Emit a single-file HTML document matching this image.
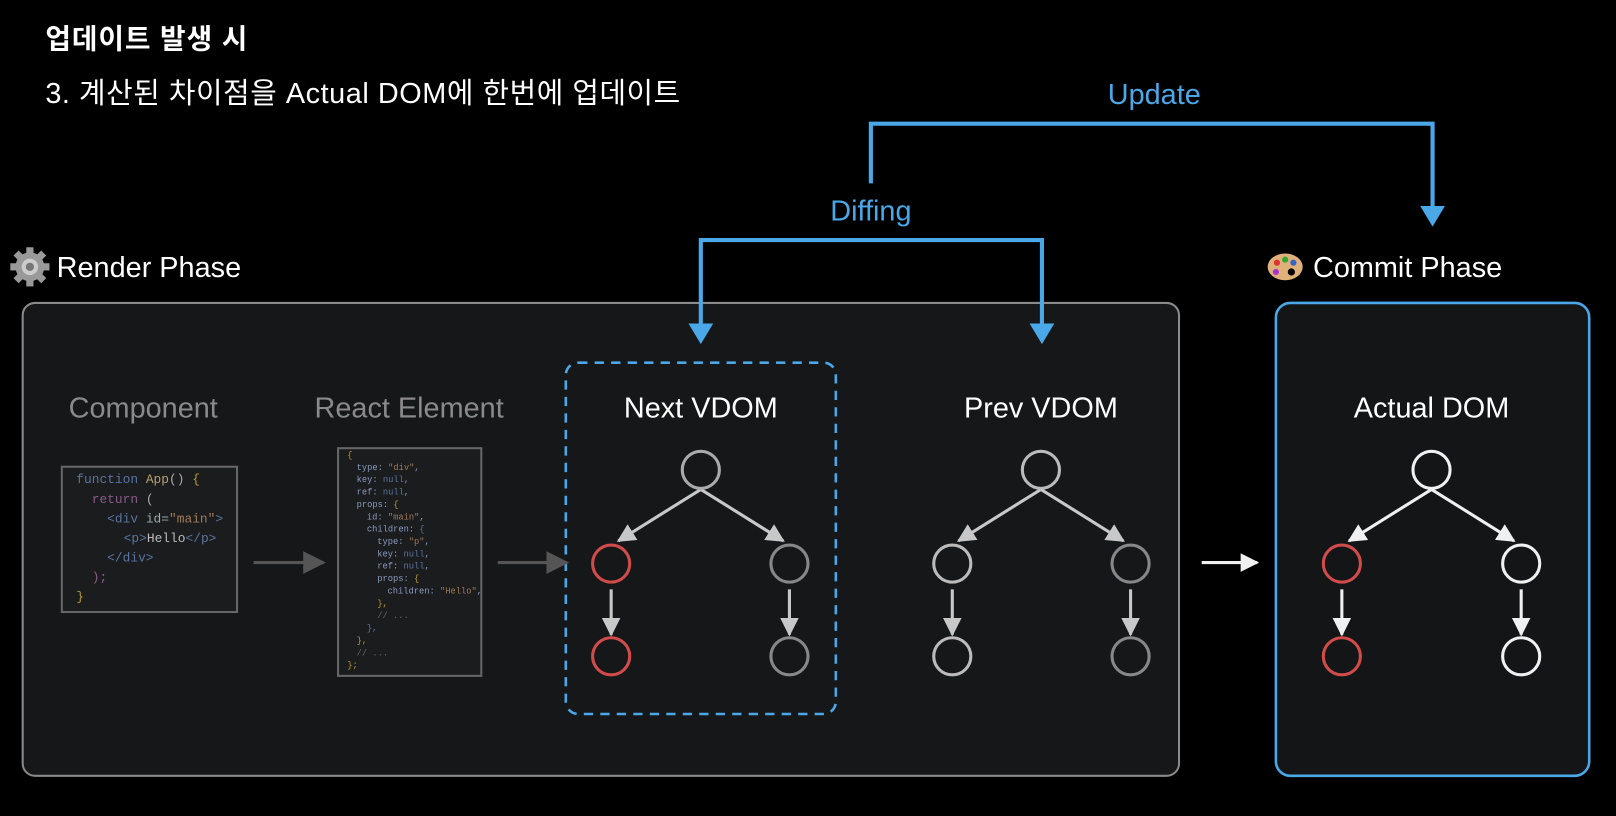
<!DOCTYPE html>
<html><head><meta charset="utf-8"><style>
html,body{margin:0;padding:0;background:#000;width:1616px;height:816px;overflow:hidden}
svg{display:block}
text{font-family:"Liberation Sans","Noto Sans CJK KR",sans-serif}
.m text{font-family:"Liberation Mono",monospace}
</style></head><body>
<svg width="1616" height="816" viewBox="0 0 1568 792" preserveAspectRatio="none" xmlns="http://www.w3.org/2000/svg">
<defs>
<marker id="ag" viewBox="0 0 10 10" refX="9" refY="5" markerWidth="18" markerHeight="18" orient="auto" markerUnits="userSpaceOnUse"><path d="M0,0 L10,5 L0,10 z" fill="#c8c8c8"/></marker>
<marker id="aw" viewBox="0 0 10 10" refX="9" refY="5" markerWidth="18" markerHeight="18" orient="auto" markerUnits="userSpaceOnUse"><path d="M0,0 L10,5 L0,10 z" fill="#f0f0f0"/></marker>
<marker id="ad" viewBox="0 0 10 10" refX="9" refY="5" markerWidth="22" markerHeight="22" orient="auto" markerUnits="userSpaceOnUse"><path d="M0,0 L10,5 L0,10 z" fill="#555"/></marker>
</defs>
<rect width="1568" height="792" fill="#000"/>
<text x="44" y="47" font-size="27" font-weight="bold" fill="#fff" textLength="196">업데이트 발생 시</text>
<text x="44" y="100" font-size="28" fill="#fff" textLength="616">3. 계산된 차이점을 Actual DOM에 한번에 업데이트</text>
<text x="1120" y="101" font-size="28" fill="#4aa8e8" text-anchor="middle">Update</text>
<text x="845" y="214" font-size="28" fill="#4aa8e8" text-anchor="middle">Diffing</text>
<!-- gear -->
<g transform="translate(29,259)">
<circle r="14" fill="#999"/>
<g fill="#999"><rect x="-3.5" y="-19" width="7" height="38"/><rect x="-3.5" y="-19" width="7" height="38" transform="rotate(45)"/><rect x="-3.5" y="-19" width="7" height="38" transform="rotate(90)"/><rect x="-3.5" y="-19" width="7" height="38" transform="rotate(135)"/></g>
<circle r="8" fill="#ccc"/><circle r="4" fill="#777"/>
</g>
<text x="55" y="269" font-size="28" fill="#fff">Render Phase</text>
<!-- palette -->
<g transform="translate(1247,259)">
<ellipse rx="17" ry="13" fill="#e0b07a"/>
<circle cx="-8" cy="-4" r="3" fill="#d33"/><circle cx="0" cy="-7" r="3" fill="#3a3"/><circle cx="8" cy="-4" r="3" fill="#36c"/><circle cx="-9" cy="5" r="3" fill="#a3c"/><circle cx="6" cy="5" r="3.5" fill="#000"/>
</g>
<text x="1274" y="269" font-size="28" fill="#fff">Commit Phase</text>
<rect x="22" y="294" width="1122" height="459" rx="12" fill="#161719" stroke="#8a8a8a" stroke-width="2"/>
<rect x="1238" y="294" width="304" height="459" rx="14" fill="#131517" stroke="#4aa8e8" stroke-width="2.5"/>
<rect x="549" y="352" width="262" height="341" rx="12" fill="none" stroke="#4aa8e8" stroke-width="2.5" stroke-dasharray="9,7"/>
<g stroke="#4aa8e8" stroke-width="4" fill="none">
<polyline points="845,178 845,120 1390,120 1390,202"/>
<polyline points="680,318 680,233 1011,233 1011,318"/>
</g>
<g fill="#4aa8e8">
<path d="M1378,200 L1402,200 L1390,220 z"/>
<path d="M668,314 L692,314 L680,334 z"/>
<path d="M999,314 L1023,314 L1011,334 z"/>
</g>
<g font-size="28" text-anchor="middle">
<text x="139" y="405" fill="#8a8a8a">Component</text>
<text x="397" y="405" fill="#8a8a8a">React Element</text>
<text x="680" y="405" fill="#fff">Next VDOM</text>
<text x="1010" y="405" fill="#fff">Prev VDOM</text>
<text x="1389" y="405" fill="#fff">Actual DOM</text>
</g>
<!-- code 1 -->
<rect x="60" y="453" width="170" height="141" fill="#1b1c1e" stroke="#666" stroke-width="2"/>
<g class="m" font-size="12.5">
<text x="74" y="469" fill="#5a74a0">function <tspan fill="#b8a070">App</tspan><tspan fill="#aaa">() </tspan><tspan fill="#b89a30">{</tspan></text>
<text x="89" y="488" fill="#8a5a8a">return <tspan fill="#aaa">(</tspan></text>
<text x="104" y="507" fill="#5a74a0">&lt;div <tspan fill="#9aa">id=</tspan><tspan fill="#a07a5a">"main"</tspan>&gt;</text>
<text x="120" y="526" fill="#5a74a0">&lt;p&gt;<tspan fill="#bbb">Hello</tspan>&lt;/p&gt;</text>
<text x="104" y="545" fill="#5a74a0">&lt;/div&gt;</text>
<text x="89" y="564" fill="#8a5a8a">);</text>
<text x="74" y="583" fill="#b89a30">}</text>
</g>
<!-- code 2 -->
<rect x="328" y="435" width="139" height="221" fill="#1b1c1e" stroke="#666" stroke-width="2"/>
<g class="m" font-size="8.5" fill="#8a9ac0">
<text x="337" y="444" fill="#b89a30">{</text>
<text x="346" y="456">type: <tspan fill="#a07a5a">"div"</tspan>,</text>
<text x="346" y="468">key: <tspan fill="#5a74a0">null</tspan>,</text>
<text x="346" y="480">ref: <tspan fill="#5a74a0">null</tspan>,</text>
<text x="346" y="492">props: <tspan fill="#b89a30">{</tspan></text>
<text x="356" y="504">id: <tspan fill="#a07a5a">"main"</tspan>,</text>
<text x="356" y="516">children: <tspan fill="#5a74a0">{</tspan></text>
<text x="366" y="528">type: <tspan fill="#a07a5a">"p"</tspan>,</text>
<text x="366" y="540">key: <tspan fill="#5a74a0">null</tspan>,</text>
<text x="366" y="552">ref: <tspan fill="#5a74a0">null</tspan>,</text>
<text x="366" y="564">props: <tspan fill="#b89a30">{</tspan></text>
<text x="376" y="576">children: <tspan fill="#a07a5a">"Hello"</tspan>,</text>
<text x="366" y="588" fill="#b89a30">},</text>
<text x="366" y="600" fill="#666">// ...</text>
<text x="356" y="612" fill="#5a74a0">},</text>
<text x="346" y="624" fill="#b89a30">},</text>
<text x="346" y="636" fill="#666">// ...</text>
<text x="337" y="648" fill="#b89a30">};</text>
</g>
<!-- connecting arrows -->
<line x1="246" y1="546" x2="314" y2="546" stroke="#555" stroke-width="3" marker-end="url(#ad)"/>
<line x1="483" y1="546" x2="550" y2="546" stroke="#555" stroke-width="3" marker-end="url(#ad)"/>
<line x1="1166" y1="546" x2="1220" y2="546" stroke="#f0f0f0" stroke-width="3" marker-end="url(#aw)"/>
<!-- trees -->
<g fill="none" stroke-width="3">
<g stroke="#c8c8c8">
<line x1="680" y1="475" x2="600" y2="525" marker-end="url(#ag)"/>
<line x1="680" y1="475" x2="760" y2="525" marker-end="url(#ag)"/>
<line x1="593" y1="572" x2="593" y2="616" marker-end="url(#ag)"/>
<line x1="766" y1="572" x2="766" y2="616" marker-end="url(#ag)"/>
</g>
<circle cx="680" cy="456" r="18" stroke="#aaa"/>
<circle cx="593" cy="547" r="18" stroke="#d24b4b"/>
<circle cx="593" cy="637" r="18" stroke="#d24b4b"/>
<circle cx="766" cy="547" r="18" stroke="#888"/>
<circle cx="766" cy="637" r="18" stroke="#888"/>
<g stroke="#c8c8c8">
<line x1="1010" y1="475" x2="930" y2="525" marker-end="url(#ag)"/>
<line x1="1010" y1="475" x2="1090" y2="525" marker-end="url(#ag)"/>
<line x1="924" y1="572" x2="924" y2="616" marker-end="url(#ag)"/>
<line x1="1097" y1="572" x2="1097" y2="616" marker-end="url(#ag)"/>
</g>
<circle cx="1010" cy="456" r="18" stroke="#bbb"/>
<circle cx="924" cy="547" r="18" stroke="#bbb"/>
<circle cx="924" cy="637" r="18" stroke="#bbb"/>
<circle cx="1097" cy="547" r="18" stroke="#888"/>
<circle cx="1097" cy="637" r="18" stroke="#888"/>
<g stroke="#f0f0f0">
<line x1="1389" y1="475" x2="1309" y2="525" marker-end="url(#aw)"/>
<line x1="1389" y1="475" x2="1469" y2="525" marker-end="url(#aw)"/>
<line x1="1302" y1="572" x2="1302" y2="616" marker-end="url(#aw)"/>
<line x1="1476" y1="572" x2="1476" y2="616" marker-end="url(#aw)"/>
</g>
<circle cx="1389" cy="456" r="18" stroke="#f0f0f0"/>
<circle cx="1302" cy="547" r="18" stroke="#d24b4b"/>
<circle cx="1302" cy="637" r="18" stroke="#d24b4b"/>
<circle cx="1476" cy="547" r="18" stroke="#f0f0f0"/>
<circle cx="1476" cy="637" r="18" stroke="#f0f0f0"/>
</g>
</svg>
</body></html>
